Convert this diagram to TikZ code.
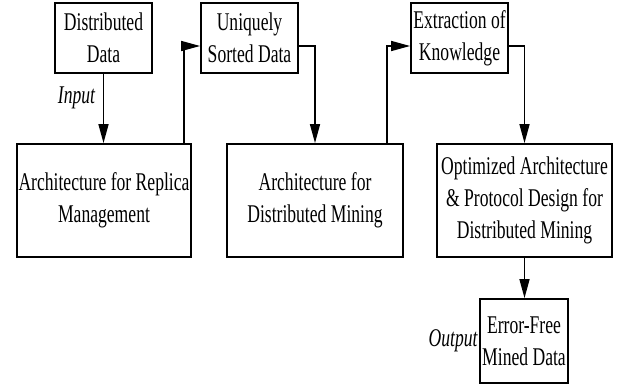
\documentclass[tikz,border=0pt]{standalone}
\usepackage{fontspec}
\setmainfont{Liberation Serif}[FakeStretch=0.69]
\usetikzlibrary{positioning}
\usetikzlibrary{arrows.meta}

\begin{document}
\begin{tikzpicture}
        [x=1pt,y=-1pt,
         every node/.style={font=\fontsize{25.5}{32}\selectfont},
         box/.style={draw,line width=1.8pt,align=center,inner sep=1pt},
         flow/.style={line width=1.5pt,-{Triangle[length=19pt,width=10pt]}}]
      \useasboundingbox (0,0) rectangle (617,385);
      \node[box,minimum width=97pt,minimum height=70pt]  (DD)  at (103.5,38) {Distributed\\Data};
      \node[box,minimum width=97pt,minimum height=70pt]  (USD) at (249.5,38) {Uniquely\\Sorted Data};
      \node[box,minimum width=97pt,minimum height=70pt]  (EOK) at (459.5,38) {Extraction of\\Knowledge};
      \node[box,minimum width=174pt,minimum height=113pt] (ARM) at (104,200.5) {Architecture for Replica\\Management};
      \node[box,minimum width=176pt,minimum height=113pt] (ADM) at (315,200.5) {Architecture for\\Distributed Mining};
      \node[box,minimum width=175pt,minimum height=113pt] (OAD) at (524.5,200.5) {Optimized Architecture\\\& Protocol Design for\\Distributed Mining};
      \node[box,minimum width=88pt,minimum height=84pt]  (EFM) at (524,341) {Error-Free\\Mined Data};
      \node[left=0pt of EFM,inner sep=1pt] (OUT) {\textit{Output}};

      \draw[flow] (DD.south) -- node[left,pos=0.34,xshift=-4pt] {\textit{Input}} (DD.south |- ARM.north);
      \draw[flow] ([xshift=-8pt]ARM.north east) |- ([yshift=-8pt]USD.west);
      \draw[flow] ([yshift=-8pt]USD.east) -| (ADM.north);
      \draw[flow] ([xshift=-17pt]ADM.north east) |- ([yshift=-8pt]EOK.west);
      \draw[flow] ([yshift=-8pt]EOK.east) -| (OAD.north);
      \draw[flow] (OAD.south) -- (OAD.south |- EFM.north);
\end{tikzpicture}
\end{document}
